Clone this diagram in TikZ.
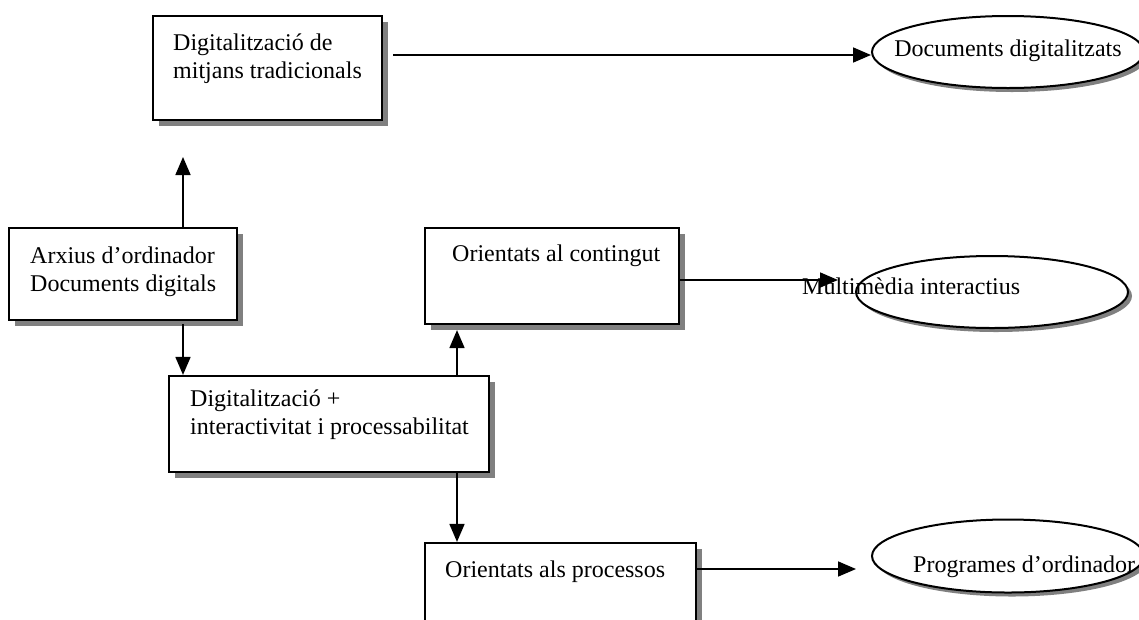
\documentclass[tikz,border=0pt]{standalone}
\usepackage{fontspec}
\setmainfont{Liberation Serif}
\usetikzlibrary{arrows.meta,shadows,shapes.geometric}
\begin{document}
\begin{tikzpicture}[x=1pt,y=-1pt,
  boxnode/.style={draw=black,line width=2.2pt,fill=white,rectangle,inner sep=0pt,
    drop shadow={shadow xshift=6pt,shadow yshift=-6pt,fill=black!50,opacity=1}},
  ovalnode/.style={draw=black,line width=2pt,fill=white,ellipse,inner sep=0pt,
    drop shadow={shadow xshift=4pt,shadow yshift=-4pt,fill=black!50,opacity=1}},
  lbl/.style={anchor=base west,inner sep=0pt,font=\fontsize{24}{28}\selectfont},
  arr/.style={line width=1.7pt,-{Triangle[length=18pt,width=15pt]}}]
\useasboundingbox (0,0) rectangle (1139,619);
\clip (0,0) rectangle (1139,619);

% boxes
\node[boxnode,minimum width=229pt,minimum height=104pt] (B1) at (267.5,68) {};
\node[boxnode,minimum width=228pt,minimum height=92pt] (A) at (123,274) {};
\node[boxnode,minimum width=254pt,minimum height=96pt] (C) at (552,276) {};
\node[boxnode,minimum width=320pt,minimum height=96pt] (D) at (329,424) {};
\node[boxnode,minimum width=271pt,minimum height=117pt] (P) at (560.5,601.5) {};

% ellipses
\node[ovalnode,minimum width=272pt,minimum height=72pt] (E1) at (1008,52) {};
\node[ovalnode,minimum width=272pt,minimum height=72pt] (E2) at (992,292) {};
\node[ovalnode,minimum width=272pt,minimum height=73pt] (E3) at (1008,556) {};

% texts
\node[lbl] (t1a) at (173,50) {Digitalització de};
\node[lbl] (t1b) at (173,78) {mitjans tradicionals};
\node[lbl] (tAa) at (30,263) {Arxius d’ordinador};
\node[lbl] (tAb) at (30,291) {Documents digitals};
\node[lbl] (tC) at (452,261) {Orientats al contingut};
\node[lbl] (tDa) at (190,406) {Digitalització +};
\node[lbl] (tDb) at (190,434) {interactivitat i processabilitat};
\node[lbl] (tP) at (445,577) {Orientats als processos};
\node[lbl,anchor=base] (tE1) at (1008,56) {Documents digitalitzats};
\node[lbl] (tE3) at (913,572) {Programes d’ordinador};

% connector end points
\coordinate (c1s) at (393,55);
\coordinate (upA) at (183,157);
\coordinate (xA) at (183,324);
\coordinate (xD) at (457,0);
\coordinate (c2s) at (679,280);
\coordinate (c2e) at (838,280);
\coordinate (c3s) at (696,569);

% connectors
\draw[arr] (c1s) -- (c1s -| E1.west);
\draw[arr] (A.north -| upA) -- (upA);
\draw[arr] (xA) -- (xA |- D.north);
\draw[arr] (D.north -| xD) -- ([yshift=-5pt]C.south -| xD);
\draw[arr] (c2s) -- (c2e);
\draw[arr] (D.south -| xD) -- (P.north -| xD);
\draw[arr] (c3s) -- (c3s -| 856,0);

\node[lbl] (tE2) at (802,294) {Multimèdia interactius};
\end{tikzpicture}
\end{document}
